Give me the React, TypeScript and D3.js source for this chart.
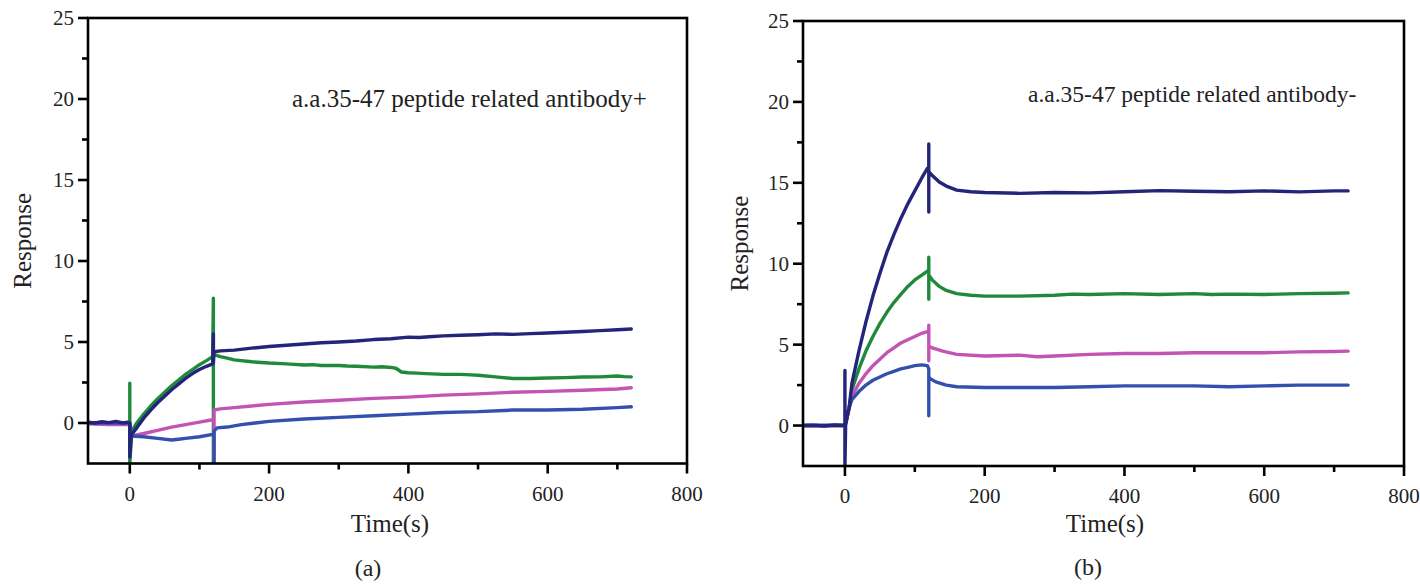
import React from 'react';
import * as d3 from 'd3';

type Pt = [number, number];

// tick values shared by both panels
const xMajor = [0, 200, 400, 600, 800];
const xMinor = [100, 300, 500, 700];
const yMajor = [0, 5, 10, 15, 20, 25];
const yMinor = [2.5, 7.5, 12.5, 17.5, 22.5];
const xDomain: Pt = [-60, 800];
const yDomain: Pt = [-2.5, 25];

// series colours
const navy = '#23247a';
const green = '#1f8a3c';
const magenta = '#c454b4';
const blue = '#3450ae';

// panel (a): a.a.35-47 peptide related antibody+
const greenA: Pt[] = [[-60, 0], [-30, 0], [0, 0], [0, 2.45], [0, -2.5], [3, -0.5], [10, 0.0], [20, 0.55], [30, 1.05], [40, 1.5], [50, 1.9], [60, 2.3], [70, 2.65], [80, 3.0], [90, 3.3], [100, 3.6], [110, 3.85], [119, 4.1], [120, 7.7], [120, -2.5], [120, 4.3], [122, 4.2], [130, 4.1], [140, 4.0], [150, 3.9], [175, 3.78], [200, 3.7], [225, 3.65], [250, 3.58], [262, 3.6], [275, 3.55], [300, 3.55], [312, 3.52], [325, 3.5], [350, 3.45], [362, 3.47], [375, 3.43], [382, 3.38], [390, 3.15], [400, 3.1], [412, 3.08], [425, 3.05], [450, 3.0], [475, 3.0], [490, 2.97], [500, 2.95], [525, 2.85], [550, 2.75], [575, 2.75], [600, 2.78], [625, 2.8], [650, 2.84], [675, 2.85], [700, 2.9], [710, 2.86], [720, 2.85]];
const magentaA: Pt[] = [[-60, -0.05], [-30, -0.1], [-10, -0.1], [0, -0.1], [3, -0.8], [20, -0.65], [40, -0.45], [60, -0.25], [80, -0.1], [100, 0.05], [119, 0.2], [121, 0.2], [121, -2.3], [121, 0.8], [130, 0.87], [150, 0.95], [175, 1.05], [200, 1.15], [250, 1.3], [300, 1.4], [350, 1.52], [400, 1.6], [450, 1.72], [500, 1.8], [550, 1.9], [600, 1.95], [650, 2.02], [700, 2.1], [720, 2.18]];
const blueA: Pt[] = [[-60, 0], [0, 0], [3, -0.8], [20, -0.85], [40, -0.95], [60, -1.05], [70, -1.0], [80, -0.95], [100, -0.85], [119, -0.7], [121, -0.7], [121, -2.5], [121, -0.5], [125, -0.3], [140, -0.25], [160, -0.1], [180, 0.0], [200, 0.1], [250, 0.25], [300, 0.35], [350, 0.45], [400, 0.55], [450, 0.65], [500, 0.7], [550, 0.8], [600, 0.8], [650, 0.85], [700, 0.95], [720, 1.0]];
const navyA: Pt[] = [[-60, 0.05], [-50, 0.0], [-40, 0.08], [-30, 0.02], [-20, 0.1], [-10, 0.0], [-3, 0.05], [0, 0.0], [0, -2.1], [2, -0.75], [10, -0.3], [20, 0.3], [30, 0.8], [40, 1.25], [50, 1.65], [60, 2.05], [70, 2.4], [80, 2.75], [90, 3.05], [100, 3.3], [110, 3.5], [119, 3.65], [120, 5.5], [120, 3.7], [121, 4.4], [130, 4.45], [150, 4.5], [175, 4.62], [200, 4.72], [225, 4.8], [250, 4.88], [275, 4.95], [300, 5.0], [325, 5.06], [350, 5.15], [375, 5.2], [400, 5.3], [415, 5.28], [430, 5.32], [450, 5.38], [475, 5.42], [500, 5.45], [525, 5.5], [550, 5.47], [575, 5.52], [600, 5.56], [625, 5.6], [650, 5.65], [675, 5.7], [700, 5.76], [720, 5.8]];

// panel (b): a.a.35-47 peptide related antibody-
const greenB: Pt[] = [[-60, 0], [0, 0], [3, 0.5], [6, 1.1], [10, 2.2], [20, 3.5], [30, 4.6], [40, 5.5], [50, 6.3], [60, 7.0], [70, 7.6], [80, 8.1], [90, 8.6], [100, 9.0], [110, 9.3], [118, 9.55], [120, 9.55], [120, 10.4], [120, 7.8], [120, 9.3], [125, 9.0], [135, 8.6], [145, 8.35], [160, 8.15], [180, 8.05], [200, 8.0], [250, 8.0], [300, 8.05], [325, 8.12], [350, 8.1], [400, 8.15], [450, 8.1], [500, 8.15], [525, 8.1], [550, 8.12], [600, 8.1], [650, 8.15], [700, 8.18], [720, 8.2]];
const magentaB: Pt[] = [[-60, 0], [0, 0], [3, 0.5], [6, 1.1], [10, 1.8], [20, 2.6], [30, 3.2], [40, 3.7], [50, 4.1], [60, 4.5], [70, 4.8], [80, 5.1], [90, 5.3], [100, 5.5], [110, 5.7], [118, 5.8], [120, 5.8], [120, 6.2], [120, 4.0], [120, 4.9], [125, 4.8], [140, 4.6], [160, 4.4], [200, 4.3], [250, 4.35], [275, 4.25], [300, 4.3], [350, 4.4], [400, 4.45], [450, 4.45], [500, 4.5], [550, 4.5], [600, 4.5], [650, 4.55], [700, 4.58], [720, 4.6]];
const blueB: Pt[] = [[-60, 0], [0, 0], [3, 0.5], [6, 1.1], [10, 1.6], [20, 2.1], [30, 2.5], [40, 2.8], [50, 3.0], [60, 3.2], [70, 3.35], [80, 3.5], [90, 3.6], [100, 3.7], [110, 3.75], [118, 3.7], [120, 3.5], [120, 0.6], [120, 3.0], [122, 2.9], [130, 2.7], [145, 2.5], [160, 2.4], [200, 2.35], [250, 2.35], [300, 2.35], [350, 2.4], [400, 2.45], [450, 2.45], [500, 2.45], [550, 2.4], [600, 2.45], [650, 2.5], [700, 2.5], [720, 2.5]];
const navyB: Pt[] = [[-60, 0], [-45, 0.02], [-30, -0.03], [-15, 0.03], [0, 0], [0, 3.4], [0, -2.5], [1, 0.0], [3, 0.5], [6, 1.1], [10, 2.6], [20, 4.6], [30, 6.4], [40, 8.0], [50, 9.4], [60, 10.7], [70, 11.8], [80, 12.8], [90, 13.7], [100, 14.5], [110, 15.3], [118, 15.9], [120, 15.9], [120, 17.4], [120, 13.2], [120, 15.7], [125, 15.45], [135, 15.05], [145, 14.8], [160, 14.55], [180, 14.45], [200, 14.4], [250, 14.35], [300, 14.4], [350, 14.38], [400, 14.45], [450, 14.52], [500, 14.48], [550, 14.45], [600, 14.5], [650, 14.44], [700, 14.5], [720, 14.5]];

const textStyle: React.CSSProperties = { fontFamily: "'Liberation Serif', 'Times New Roman', Times, serif", fill: '#222' };

type PanelProps = {
  id: string;
  left: number; right: number; top: number; bottom: number;
  series: { data: Pt[]; color: string }[];
  note: string; noteX: number; noteY: number; noteSize: number;
  tag: string; tagX: number; tagY: number;
  ylabX: number;
  xlabX: number; xlabY: number;
};

function Panel(p: PanelProps) {
  const x = d3.scaleLinear(xDomain, [p.left, p.right]);
  const y = d3.scaleLinear(yDomain, [p.bottom, p.top]);
  const line = d3.line<Pt>().x(d => x(d[0])).y(d => y(d[1]));
  const axisW = 2.6;
  return (
    <g>
      <defs>
        <clipPath id={`clip-${p.id}`}>
          <rect x={p.left} y={p.top} width={p.right - p.left} height={p.bottom - p.top} />
        </clipPath>
      </defs>
      <g clipPath={`url(#clip-${p.id})`}>
        {p.series.map((s, i) => (
          <path key={i} d={line(s.data) || ''} fill="none" stroke={s.color}
            strokeWidth={3.4} strokeLinejoin="round" strokeLinecap="round" />
        ))}
      </g>
      <rect x={p.left} y={p.top} width={p.right - p.left} height={p.bottom - p.top}
        fill="none" stroke="#000" strokeWidth={axisW} />
      {yMajor.map(v => (
        <g key={'ym' + v}>
          <line x1={p.left - 10} x2={p.left} y1={y(v)} y2={y(v)} stroke="#000" strokeWidth={axisW} />
          <text x={p.left - 14} y={y(v)} dy="0.35em" textAnchor="end" fontSize={21} style={textStyle}>{v}</text>
        </g>
      ))}
      {yMinor.map(v => (
        <line key={'yn' + v} x1={p.left - 6} x2={p.left} y1={y(v)} y2={y(v)} stroke="#000" strokeWidth={axisW} />
      ))}
      {xMajor.map(v => (
        <g key={'xm' + v}>
          <line x1={x(v)} x2={x(v)} y1={p.bottom} y2={p.bottom + 10} stroke="#000" strokeWidth={axisW} />
          <text x={x(v)} y={p.bottom + 37} textAnchor="middle" fontSize={21} style={textStyle}>{v}</text>
        </g>
      ))}
      {xMinor.map(v => (
        <line key={'xn' + v} x1={x(v)} x2={x(v)} y1={p.bottom} y2={p.bottom + 6} stroke="#000" strokeWidth={axisW} />
      ))}
      <text transform={`translate(${p.ylabX},${(p.top + p.bottom) / 2}) rotate(-90)`}
        textAnchor="middle" dy="0.35em" fontSize={25} style={textStyle}>Response</text>
      <text x={p.xlabX} y={p.xlabY} textAnchor="middle" fontSize={25} style={textStyle}>Time(s)</text>
      <text x={p.noteX} y={p.noteY} fontSize={p.noteSize} style={textStyle}>{p.note}</text>
      <text x={p.tagX} y={p.tagY} textAnchor="middle" fontSize={24} style={textStyle}>{p.tag}</text>
    </g>
  );
}

export default function App() {
  return (
    <div style={{ position: 'absolute', left: 0, top: 0 }}>
      <svg width={1420} height={584} style={{ display: 'block', background: '#fff' }}>
        <Panel id="a" left={88} right={687} top={18} bottom={463.5}
          series={[
            { data: greenA, color: green },
            { data: magentaA, color: magenta },
            { data: blueA, color: blue },
            { data: navyA, color: navy },
          ]}
          note="a.a.35-47 peptide related antibody+" noteX={292} noteY={107} noteSize={25}
          tag="(a)" tagX={368} tagY={576}
          ylabX={22} xlabX={390} xlabY={532} />
        <Panel id="b" left={803} right={1404} top={21} bottom={466}
          series={[
            { data: greenB, color: green },
            { data: magentaB, color: magenta },
            { data: blueB, color: blue },
            { data: navyB, color: navy },
          ]}
          note="a.a.35-47 peptide related antibody-" noteX={1028} noteY={102} noteSize={23.5}
          tag="(b)" tagX={1088} tagY={575}
          ylabX={739} xlabX={1105} xlabY={532} />
      </svg>
    </div>
  );
}
